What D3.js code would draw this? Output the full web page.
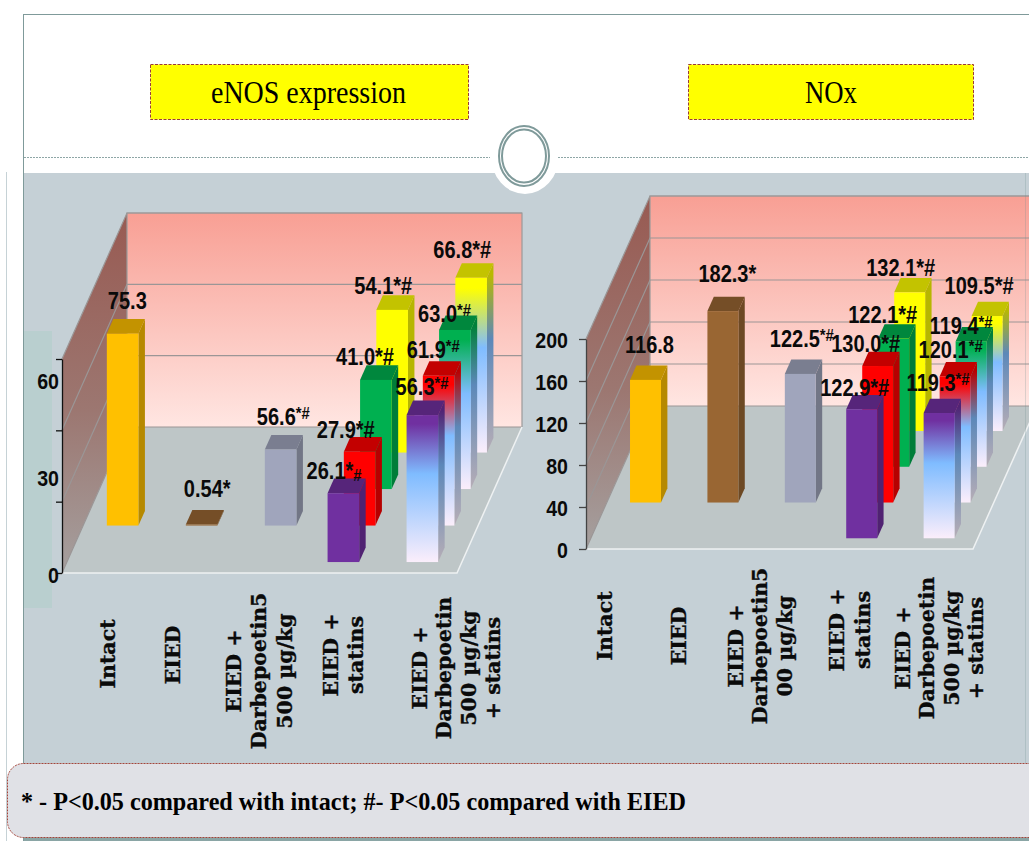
<!DOCTYPE html>
<html>
<head>
<meta charset="utf-8">
<title>eNOS expression and NOx</title>
<script src="https://cdnjs.cloudflare.com/ajax/libs/d3/7.9.0/d3.min.js"></script>
<style>
  html, body { margin: 0; padding: 0; background: #fff; overflow: hidden; }
  svg { display: block; }
  .val { font-family: "Liberation Sans", Arial, sans-serif; font-weight: bold; fill: #0a0a0a; }
  .cat { font-family: "DejaVu Serif", serif; font-weight: bold; font-size: 20.5px; fill: #0a0a0a; stroke: #0a0a0a; stroke-width: 0.35px; }
  .axis path, .axis line { fill: none; }
</style>
</head>
<body>
<div id="chart"></div>
<script>
/* =====================================================
   DATA
===================================================== */
const categories = ['Intact', 'EIED', 'EIED + Darbepoetin', 'EIED + statins', 'EIED + Darbepoetin + statins'];
const rows = [0, 1, 2, 3]; // depth rows, front to back

// eNOS: bar heights as drawn against the axis (printed labels do not follow the axis)
const enosRow0 = [null, null, null, 19.3, 41.2];
const enosRow1 = [53.8, 0.3, 21.3, 20.7, 42.0];
const enosRow2 = [null, null, null, 30.6, 44.6];
const enosRow3 = [null, null, null, 40.0, 49.0];

// ^ = small raised suffix, _ = small suffix on the baseline
const enosLabels0 = [null, null, null, '26.1*_#', '56.3^*#'];
const enosLabels1 = ['75.3', '0.54*', '56.6^*#', '27.9*#', '61.9^*#'];
const enosLabels2 = [null, null, null, '41.0*#', '63.0^*#'];
const enosLabels3 = [null, null, null, '54.1*#', '66.8*#'];

const noxRow0 = [null, null, null, 122.9, 119.3];
const noxRow1 = [116.8, 182.3, 122.5, 130.0, 120.1];
const noxRow2 = [null, null, null, 122.1, 119.4];
const noxRow3 = [null, null, null, 132.1, 109.5];

const noxLabels0 = [null, null, null, '122.9*#', '119.3^*#'];
const noxLabels1 = ['116.8', '182.3*', '122.5^*#', '130.0*#', '120.1^*#'];
const noxLabels2 = [null, null, null, '122.1*#', '119.4^*#'];
const noxLabels3 = [null, null, null, '132.1*#', '109.5*#'];

const enosTicks = [0, 20, 40, 60];
const enosTickLabels = [0, 30, 60];
const noxTicks = [0, 40, 80, 120, 160, 200];

const enosCatLines = [
  ['Intact'], ['EIED'],
  ['EIED +', 'Darbepoetin5', '500 µg/kg'],
  ['EIED +', 'statins'],
  ['EIED +', 'Darbepoetin', '500 µg/kg', '+ statins'],
];
const noxCatLines = [
  ['Intact'], ['EIED'],
  ['EIED +', 'Darbepoetin5', '00 µg/kg'],
  ['EIED +', 'statins'],
  ['EIED +', 'Darbepoetin', '500 µg/kg', '+ statins'],
];
const footnote = '* - P<0.05 compared with intact; #- P<0.05 compared with EIED';

/* =====================================================
   CONFIGURATION
===================================================== */
const WIDTH = 1029;
const HEIGHT = 841;
const TEXT_SQUEEZE = 0.87; // value labels are taller and narrower than the plain font

const baseHues = ['#ffc000', '#996633', '#a0a5bc']; // row 1, first three columns
const rowHues = ['#7030a0', '#ff0000', '#00b050', '#ffff00'];

const CHARTS = [
  {
    id: 'enos',
    x0: 62, y0: 573, w: 395, dx: 65, dy: 146, wall: 214, max: 60,
    ticks: enosTicks, tickSize: 6,
    values: [enosRow0, enosRow1, enosRow2, enosRow3],
    labels: [enosLabels0, enosLabels1, enosLabels2, enosLabels3],
    // label nudges from the front top left corner of each bar
    nudge: [
      [null, null, null, [-21, -14], [-11, -20]],
      [[1, -25], [-2, -27], [-8, -25], [-27, -14], [-16, -18]],
      [null, null, null, [-24, -15], [-21, -8]],
      [null, null, null, [-22, -16], [-22, -20]],
    ],
    cats: enosCatLines,
    catX: [108, 173, 259, 343, 456],
    catY: [654, 655, 671, 655, 668],
    catGap: [0, 0, 25.5, 25, 24.5],
  },
  {
    id: 'nox',
    x0: 586, y0: 549, w: 387, dx: 64, dy: 143, wall: 210, max: 200,
    ticks: noxTicks, tickSize: 7,
    values: [noxRow0, noxRow1, noxRow2, noxRow3],
    labels: [noxLabels0, noxLabels1, noxLabels2, noxLabels3],
    nudge: [
      [null, null, null, [-26, -13], [-17, -22]],
      [[-5, -27], [-9, -29], [-15, -27], [-31, -14], [-21, -18]],
      [null, null, null, [-30, -16], [-26, -7]],
      [null, null, null, [-28, -16], [-27, -22]],
    ],
    cats: noxCatLines,
    catX: [605, 679, 760, 850, 939],
    catY: [626, 636, 646, 630, 648],
    catGap: [0, 0, 24.5, 26, 24.5],
  },
];

/* =====================================================
   SVG + SLIDE FRAME
===================================================== */
const svg = d3.select('#chart').append('svg').attr('width', WIDTH).attr('height', HEIGHT);
const defs = svg.append('defs');

function vGradient(id, stops) {
  const g = defs.append('linearGradient').attr('id', id)
    .attr('x1', 0).attr('y1', 0).attr('x2', 0).attr('y2', 1);
  stops.forEach(([o, c]) => g.append('stop').attr('offset', o).attr('stop-color', c));
}
vGradient('backWall', [[0, '#f89f94'], [1, '#ffe6e2']]);
vGradient('sideWall', [[0, '#985a52'], [0.55, '#9c7771'], [1, '#a5a09f']]);

// panel
svg.append('rect').attr('x', 24).attr('y', 173).attr('width', WIDTH - 24).attr('height', 668).attr('fill', '#c5d0d6');
svg.append('rect').attr('x', 24).attr('y', 331).attr('width', 28).attr('height', 277).attr('fill', '#b9cfcf');
// notch under the ring
svg.append('ellipse').attr('cx', 525).attr('cy', 156).attr('rx', 34).attr('ry', 38).attr('fill', '#fff');

// frame lines
const frame = '#7f9a9a';
svg.append('line').attr('x1', 23.5).attr('x2', WIDTH).attr('y1', 14.5).attr('y2', 14.5).attr('stroke', frame);
svg.append('line').attr('x1', 23.5).attr('x2', 23.5).attr('y1', 14).attr('y2', HEIGHT).attr('stroke', frame);
svg.append('line').attr('x1', 6.5).attr('x2', 6.5).attr('y1', 172).attr('y2', HEIGHT).attr('stroke', '#c6d2d6');
[[24, 490], [558, WIDTH]].forEach(([a, b]) => {
  svg.append('line').attr('x1', a).attr('x2', b).attr('y1', 157.5).attr('y2', 157.5)
    .attr('stroke', '#8ea6a6').attr('stroke-dasharray', '2,1');
});
[[25, 30], [22, 26.5]].forEach(([rx, ry]) => {
  svg.append('ellipse').attr('cx', 524).attr('cy', 156).attr('rx', rx).attr('ry', ry)
    .attr('fill', 'none').attr('stroke', frame).attr('stroke-width', 2);
});

// title boxes
[
  { x: 150, w: 318, text: 'eNOS expression', tx: 211, tw: 195 },
  { x: 688, w: 285, text: 'NOx', tx: 805, tw: 52 },
].forEach((b) => {
  svg.append('rect').attr('x', b.x + 0.5).attr('y', 64.5).attr('width', b.w).attr('height', 55)
    .attr('fill', '#ffff00').attr('stroke', '#9a3a3a').attr('stroke-dasharray', '3,1.5');
  svg.append('text').attr('x', b.tx).attr('y', 103)
    .attr('font-family', '"Liberation Serif", serif').attr('font-size', 31).attr('fill', '#000')
    .attr('textLength', b.tw).attr('lengthAdjust', 'spacingAndGlyphs')
    .text(b.text);
});

/* =====================================================
   DRAW FUNCTIONS
===================================================== */
const poly = (pts) => pts.map((p) => p.join(',')).join(' ');

function barGradient(chartId, row, hue) {
  const id = chartId + '-grad-' + row;
  vGradient(id, [[0, hue], [0.06, hue], [0.4, '#7fbcff'], [1, '#fbeefb']]);
  vGradient(id + '-side', [
    [0, d3.rgb(hue).darker(0.9)], [0.06, d3.rgb(hue).darker(0.9)],
    [0.4, d3.rgb('#7fbcff').darker(0.9)], [1, d3.rgb('#fbeefb').darker(0.9)],
  ]);
  return id;
}

function squeezeAxisText(sel, right) {
  sel.attr('class', 'val').attr('font-size', 22.5)
    .attr('x', right / TEXT_SQUEEZE).attr('dy', '0.36em')
    .attr('transform', `scale(${TEXT_SQUEEZE},1)`)
    .attr('y', function () { return 0; });
}

function drawChart(cfg) {
  const g = svg.append('g').attr('class', cfg.id);

  const xScale = d3.scaleBand().domain(categories)
    .range([cfg.x0, cfg.x0 + cfg.w]).paddingInner(0.6).paddingOuter(0.3);
  const zScale = d3.scaleBand().domain(rows).range([0, 1]).paddingInner(0.6).paddingOuter(0.3);
  const hScale = d3.scaleLinear().domain([0, cfg.max]).range([0, cfg.wall]);
  const yAxisScale = d3.scaleLinear().domain([0, cfg.max]).range([cfg.y0, cfg.y0 - cfg.wall]);

  // project a floor position (x px, depth 0..1) and a height px onto the page
  const px = (x, z) => x + z * cfg.dx;
  const py = (z, h) => cfg.y0 - z * cfg.dy - h;

  const bx = px(cfg.x0, 1);
  const by = py(1, 0);
  const topY = by - cfg.wall;

  // side wall, back wall, floor
  g.append('polygon')
    .attr('points', poly([[cfg.x0, cfg.y0 - cfg.wall], [bx, topY], [bx, by], [cfg.x0, cfg.y0]]))
    .attr('fill', 'url(#sideWall)');
  g.append('rect').attr('x', bx).attr('y', topY).attr('width', cfg.w).attr('height', cfg.wall)
    .attr('fill', 'url(#backWall)');
  g.append('polygon')
    .attr('points', poly([[cfg.x0, cfg.y0], [cfg.x0 + cfg.w, cfg.y0], [bx + cfg.w, by], [bx, by]]))
    .attr('fill', '#bec6c7');

  // grid on the walls
  g.selectAll('.grid').data(cfg.ticks).enter().append('polyline')
    .attr('class', 'grid')
    .attr('fill', 'none')
    .attr('stroke', '#9b9696')
    .attr('stroke-width', 1.2)
    .attr('points', (d) => {
      const h = hScale(d);
      return poly([[cfg.x0, cfg.y0 - h], [bx, by - h], [bx + cfg.w, by - h]]);
    });
  g.append('polyline')
    .attr('points', poly([[bx, by], [bx, topY], [bx + cfg.w, topY], [bx + cfg.w, by]]))
    .attr('fill', 'none').attr('stroke', '#9b9a9a').attr('stroke-width', 1.2);

  // white rim of the floor
  g.append('polyline')
    .attr('points', poly([[cfg.x0, cfg.y0], [cfg.x0 + cfg.w, cfg.y0], [bx + cfg.w, by]]))
    .attr('fill', 'none').attr('stroke', '#eef1f2').attr('stroke-width', 1.5);

  // axis
  const axis = d3.axisLeft(yAxisScale).tickValues(cfg.ticks).tickSize(cfg.tickSize).tickSizeOuter(0);
  if (cfg.id === 'enos') axis.tickFormat('');
  const axisG = g.append('g').attr('class', 'axis')
    .attr('transform', `translate(${cfg.x0},0)`).call(axis);
  axisG.selectAll('path, line').attr('stroke', cfg.id === 'enos' ? '#111' : '#444').attr('stroke-width', 1.3);
  squeezeAxisText(axisG.selectAll('text'), -cfg.tickSize - 11);

  if (cfg.id === 'enos') {
    // printed labels sit on their own spacing, not on the tick marks
    const labelScale = d3.scaleLinear().domain([0, 60]).range([574, 380]);
    const labelAxis = d3.axisLeft(labelScale).tickValues(enosTickLabels).tickSize(0);
    const la = g.append('g').attr('transform', `translate(${cfg.x0},0)`).call(labelAxis);
    la.select('.domain').remove();
    squeezeAxisText(la.selectAll('text'), -3);
  }

  // bars, back row first
  const bw = xScale.bandwidth();
  const zw = zScale.bandwidth();
  const labelLayer = [];

  rows.slice().reverse().forEach((row) => {
    cfg.values[row].forEach((v, col) => {
      if (v == null) return;
      const hue = col < 3 ? baseHues[col] : rowHues[row];
      const gradient = col === 4;
      const z0 = zScale(row);
      const z1 = z0 + zw;
      const x = px(xScale(categories[col]), z0);
      const xb = px(xScale(categories[col]), z1);
      const h = hScale(v);
      const yf = py(z0, 0);
      const yb = py(z1, 0);
      const barG = g.append('g').attr('class', 'bar');

      let frontFill = hue;
      let sideFill = d3.rgb(hue).darker(0.95);
      if (gradient) {
        const gid = barGradient(cfg.id, row, hue);
        frontFill = `url(#${gid})`;
        sideFill = `url(#${gid}-side)`;
      }
      barG.append('polygon')
        .attr('points', poly([[x + bw, yf - h], [xb + bw, yb - h], [xb + bw, yb], [x + bw, yf]]))
        .attr('fill', sideFill);
      barG.append('polygon')
        .attr('points', poly([[x, yf - h], [x + bw, yf - h], [xb + bw, yb - h], [xb, yb - h]]))
        .attr('fill', d3.rgb(hue).darker(0.75));
      barG.append('rect').attr('x', x).attr('y', yf - h).attr('width', bw).attr('height', h)
        .attr('fill', frontFill);

      const [ndx, ndy] = cfg.nudge[row][col];
      labelLayer.push({ x: x + ndx, y: yf - h + ndy, text: cfg.labels[row][col] });
    });
  });

  // value labels on top of every bar
  labelLayer.forEach((l) => {
    const m = l.text.match(/^([^\^_]*)([\^_]?)(.*)$/);
    const t = g.append('text').attr('class', 'val')
      .attr('transform', `translate(${l.x},${l.y}) scale(${TEXT_SQUEEZE},1)`)
      .attr('font-size', 23);
    t.append('tspan').text(m[1]);
    if (m[3]) {
      const raise = m[2] === '^' ? -6 : 2;
      t.append('tspan').attr('dy', raise).attr('font-size', 17).text(m[3]);
    }
  });

  // category labels, rotated
  cfg.cats.forEach((lines, i) => {
    const t = g.append('g').attr('transform', `translate(${cfg.catX[i]},${cfg.catY[i]}) rotate(-90)`);
    const gap = cfg.catGap[i];
    const start = (-(lines.length - 1) * gap) / 2;
    lines.forEach((line, j) => {
      t.append('text').attr('class', 'cat').attr('text-anchor', 'middle')
        .attr('y', start + j * gap).attr('dy', '0.36em').text(line);
    });
  });
}

/* =====================================================
   INITIAL DRAW
===================================================== */
CHARTS.forEach(drawChart);

// faint right slide edge over the chart
svg.append('line').attr('x1', 1025.5).attr('x2', 1025.5).attr('y1', 173).attr('y2', 763)
  .attr('stroke', '#6f8f8f').attr('stroke-opacity', 0.25);

// footnote
svg.append('rect').attr('x', 24).attr('y', 837).attr('width', WIDTH - 24).attr('height', 4).attr('fill', '#8aa5a5');
svg.append('rect').attr('x', 7.5).attr('y', 763.5).attr('width', WIDTH + 30).attr('height', 74).attr('rx', 16)
  .attr('fill', '#e0e1e6').attr('stroke', '#a3443a').attr('stroke-dasharray', '2,1');
svg.append('text').attr('x', 21).attr('y', 810)
  .attr('font-family', '"Liberation Serif", serif').attr('font-weight', 'bold').attr('font-size', 25)
  .attr('fill', '#000').attr('textLength', 665).attr('lengthAdjust', 'spacingAndGlyphs')
  .text(footnote);
</script>
</body>
</html>
